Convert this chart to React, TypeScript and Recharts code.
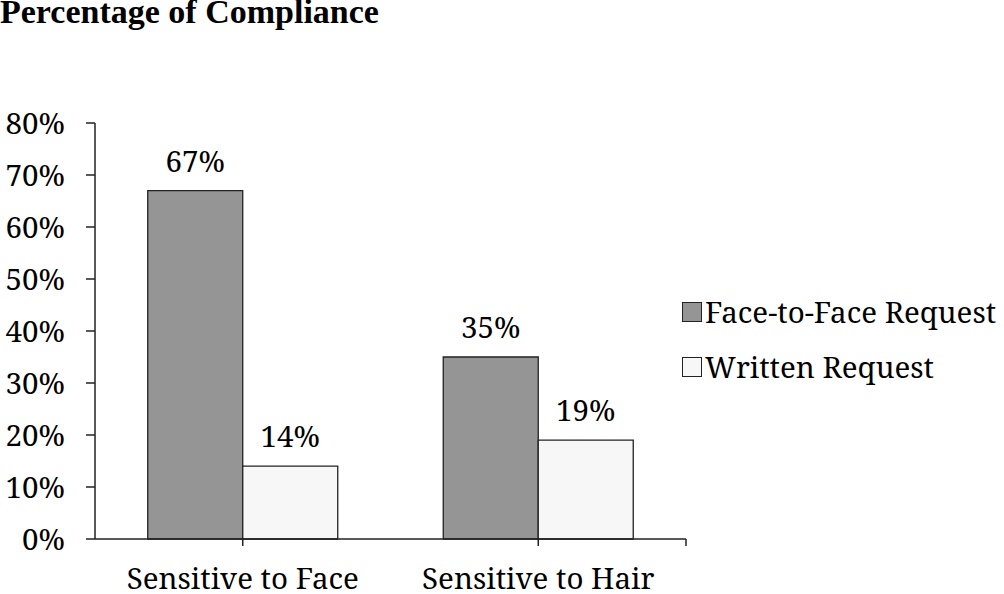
import React from 'react';
import { BarChart, Bar, XAxis, YAxis, Legend, LabelList } from 'recharts';

const title = 'Percentage of Compliance';
const categories = ['Sensitive to Face', 'Sensitive to Hair'];
const seriesNames = ['Face-to-Face Request', 'Written Request'];
const faceToFace = [67, 35];
const written = [14, 19];
const yTicks = [0, 10, 20, 30, 40, 50, 60, 70, 80];

const data = categories.map((c, i) => ({ category: c, face: faceToFace[i], written: written[i] }));

const TITLE_FONT = '"Liberation Serif", serif';
const FONT = '"Noto Serif", "DejaVu Serif", serif';
const FS = 29.5;
const INK = '#000';
const LINE = '#222';
const FILLS = ['#959595', '#f7f7f7'];
const X_TICK_SIZE = 7;
const X_TICK_MARGIN = 19;
const TXT: React.CSSProperties = { fontFamily: FONT, fontSize: FS, fontWeight: 400, fill: INK };

const CategoryTick = (props: any) => {
  const { x, y, payload, index, visibleTicksCount } = props;
  const isLast = index === visibleTicksCount - 1;
  const off = payload && typeof payload.offset === 'number' ? payload.offset : 0;
  return (
    <g>
      <text x={x} y={y} dy={23.5} textAnchor="middle" style={TXT}>
        {payload.value}
      </text>
      {isLast && off ? (
        <line
          x1={x + off}
          x2={x + off}
          y1={y - X_TICK_MARGIN - X_TICK_SIZE}
          y2={y - X_TICK_MARGIN}
          stroke={LINE}
          strokeWidth={1.5}
        />
      ) : null}
    </g>
  );
};

const YTick = (props: any) => {
  const { x, y, payload } = props;
  return (
    <text x={x} y={y} dy={10.5} textAnchor="end" style={TXT}>
      {`${payload.value}%`}
    </text>
  );
};

const BarValueLabel = (props: any) => {
  const { x, y, width, value } = props;
  return (
    <text x={x + width / 2} y={y - 19} textAnchor="middle" style={TXT}>
      {`${value}%`}
    </text>
  );
};

const LegendContent = () => (
  <svg width={322} height={110}>
    {seriesNames.map((n, i) => (
      <g key={n}>
        <rect x={0.5} y={17.5 + i * 55} width={19} height={19} fill={FILLS[i]} stroke={LINE} strokeWidth={1} />
        <text x={23} y={37.5 + i * 55} style={TXT}>
          {n}
        </text>
      </g>
    ))}
  </svg>
);

export default function App() {
  return (
    <div style={{ position: 'absolute', left: 0, top: 0, width: 1004, height: 594, background: '#fff' }}>
      <svg width={1004} height={40} style={{ position: 'absolute', left: 0, top: 0 }}>
        <text x={0} y={23} fontFamily={TITLE_FONT} fontSize={34} fontWeight="bold" fill={INK}>
          {title}
        </text>
      </svg>
      <BarChart
        width={1004}
        height={594}
        data={data}
        margin={{ top: 123, right: 318, bottom: 0, left: 0 }}
        barCategoryGap="17.85%"
        barGap={0}
      >
        <XAxis
          dataKey="category"
          height={55}
          tickSize={X_TICK_SIZE}
          tickMargin={X_TICK_MARGIN}
          axisLine={{ stroke: LINE, strokeWidth: 1.5 }}
          tickLine={{ stroke: LINE, strokeWidth: 1.5 }}
          tick={<CategoryTick />}
          interval={0}
        />
        <YAxis
          width={95}
          domain={[0, 80]}
          ticks={yTicks}
          interval={0}
          tickSize={9}
          tickMargin={21}
          axisLine={{ stroke: LINE, strokeWidth: 1.5 }}
          tickLine={{ stroke: LINE, strokeWidth: 1.5 }}
          tick={<YTick />}
        />
        <Legend
          layout="horizontal"
          align="center"
          verticalAlign="middle"
          content={<LegendContent />}
          wrapperStyle={{ position: 'absolute', left: 682, top: 285, width: 322, height: 110 }}
        />
        <Bar dataKey="face" name={seriesNames[0]} fill={FILLS[0]} stroke={LINE} strokeWidth={1.3} isAnimationActive={false}>
          <LabelList dataKey="face" content={<BarValueLabel />} />
        </Bar>
        <Bar dataKey="written" name={seriesNames[1]} fill={FILLS[1]} stroke={LINE} strokeWidth={1.3} isAnimationActive={false}>
          <LabelList dataKey="written" content={<BarValueLabel />} />
        </Bar>
      </BarChart>
    </div>
  );
}
